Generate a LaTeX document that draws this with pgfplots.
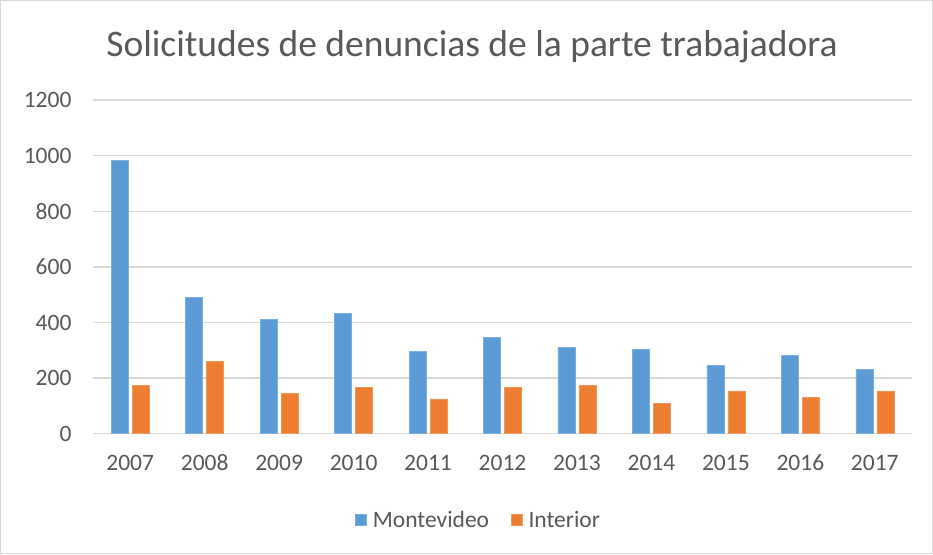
\documentclass[border=0pt]{standalone}
\usepackage{pgfplots}
\pgfplotsset{compat=1.18}
\usepackage{fontspec}
\setmainfont{Carlito}
\definecolor{mblue}{HTML}{5B9BD5}
\definecolor{morange}{HTML}{ED7D31}
\definecolor{txt}{HTML}{595959}
\definecolor{gridc}{HTML}{D9D9D9}
\begin{document}
\begin{tikzpicture}
\fill[white] (0,0) rectangle (933pt,554pt);
\draw[gridc, line width=1pt] (0.5pt,0.5pt) rectangle (932.5pt,553.5pt);
\node[text=txt, font=\fontsize{37.5}{42}\selectfont] at (472pt,507pt) {Solicitudes de denuncias de la parte trabajadora};
\begin{axis}[
  at={(93pt,120.3pt)}, anchor=south west,
  scale only axis, width=819pt, height=333.6pt,
  ybar=4pt, bar width=17pt,
  xmin=-0.5, xmax=10.5, ymin=0, ymax=1200,
  ytick={0,200,...,1200},
  xtick={0,...,10},
  xticklabels={2007,2008,2009,2010,2011,2012,2013,2014,2015,2016,2017},
  axis line style={draw=none},
  major tick length=0pt,
  ymajorgrids, grid style={gridc, line width=1.3pt},
  tick label style={font=\fontsize{23.5}{27}\selectfont, text=txt},
  /pgf/number format/assume math mode=true,
  scaled ticks=false,
  /pgf/number format/1000 sep={},
  yticklabel style={xshift=-18pt},
  xticklabel style={yshift=-18pt, text height=15pt, text depth=0pt},
  legend style={at={(0.471,-0.259)}, anchor=center, draw=none, fill=none,
    legend columns=2, font=\fontsize{23.5}{27}\selectfont, text=txt,
    /tikz/every odd column/.append style={column sep=4pt},
    /tikz/every even column/.append style={column sep=20pt}},
  legend image code/.code={\fill[#1] (0pt,-5.5pt) rectangle (11pt,5.5pt);},
]
\addplot[fill=mblue, draw=mblue!80!white] coordinates {(0,984) (1,491) (2,411) (3,433) (4,297) (5,347) (6,311) (7,304) (8,246) (9,283) (10,232)};
\addplot[fill=morange, draw=morange!80!white] coordinates {(0,175) (1,261) (2,145) (3,167) (4,125) (5,167) (6,174) (7,109) (8,154) (9,131) (10,154)};
\legend{Montevideo, Interior}
\end{axis}
\end{tikzpicture}
\end{document}
